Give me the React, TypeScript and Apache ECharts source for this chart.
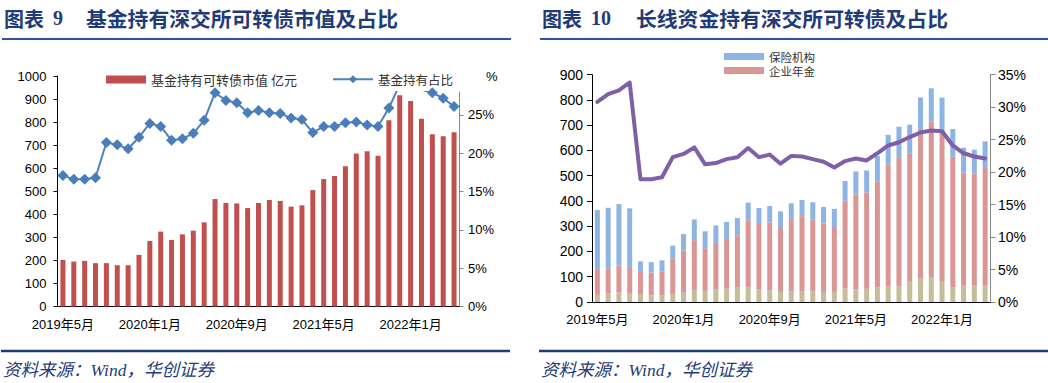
import React, { useEffect, useRef } from "react";
import * as echarts from "echarts";

const months = [
  "2019年5月", "2019年6月", "2019年7月", "2019年8月", "2019年9月", "2019年10月", "2019年11月", "2019年12月",
  "2020年1月", "2020年2月", "2020年3月", "2020年4月", "2020年5月", "2020年6月", "2020年7月", "2020年8月",
  "2020年9月", "2020年10月", "2020年11月", "2020年12月", "2021年1月", "2021年2月", "2021年3月", "2021年4月",
  "2021年5月", "2021年6月", "2021年7月", "2021年8月", "2021年9月", "2021年10月", "2021年11月", "2021年12月",
  "2022年1月", "2022年2月", "2022年3月", "2022年4月", "2022年5月",
];

// Chart 9: fund holdings of SZSE convertible bonds (亿元) and share (%)
const fundValue = [202, 195, 198, 188, 188, 179, 179, 224, 284, 325, 289, 313, 329, 365, 466, 449, 447, 427, 449, 462, 458, 433, 439, 505, 553, 566, 609, 664, 674, 654, 808, 916, 892, 814, 747, 739, 756];
const fundShare = [17.1, 16.6, 16.6, 16.8, 21.4, 21.1, 20.6, 22.1, 23.9, 23.5, 21.7, 21.9, 22.6, 24.3, 27.9, 26.9, 26.6, 25.3, 25.6, 25.3, 25.2, 24.6, 24.4, 22.7, 23.5, 23.5, 24.0, 24.1, 23.7, 23.5, 25.9, 29.0, 29.5, 28.3, 27.9, 27.2, 26.1];

// Chart 10: long-term funds
const socialFund = [28, 34, 38, 36, 31, 27, 27, 32, 37, 48, 44, 50, 53, 57, 59, 50, 46, 40, 41, 43, 41, 40, 40, 54, 50, 52, 59, 61, 61, 80, 92, 96, 83, 59, 65, 67, 67];
const annuity = [102, 99, 107, 99, 88, 90, 94, 141, 167, 197, 169, 184, 197, 205, 265, 259, 268, 257, 287, 297, 286, 271, 257, 347, 376, 382, 419, 483, 512, 509, 589, 618, 598, 516, 448, 441, 467];
const insurance = [234, 240, 243, 236, 42, 41, 44, 50, 65, 82, 67, 69, 67, 71, 70, 63, 66, 62, 63, 64, 68, 65, 72, 78, 91, 87, 100, 118, 121, 113, 129, 132, 128, 110, 98, 95, 102];
const longShare = [30.8, 32.0, 32.6, 33.8, 18.9, 18.9, 19.2, 22.3, 22.8, 23.8, 21.2, 21.4, 22.0, 22.3, 23.7, 22.3, 22.7, 21.3, 22.5, 22.4, 22.0, 21.6, 20.7, 21.7, 22.1, 21.8, 22.9, 24.1, 24.6, 25.4, 26.1, 26.4, 26.3, 24.1, 22.9, 22.4, 22.1];

const leftTicks = [0, 5, 10, 15, 20, 25];

const AX = '"Liberation Sans", Arial, "Noto Sans CJK SC", sans-serif';
const CJK = '"Noto Sans CJK SC", sans-serif';
const NAVY = "#1F3C78";

export default function App() {
  const ref = useRef<HTMLDivElement>(null);
  useEffect(() => {
    const chart = echarts.init(ref.current!, null, { renderer: "svg" });
    const plain = (v: number) => String(v);
    const catAxis = (gridIndex: number, tickInterval: number) => ({
      gridIndex,
      type: "category",
      data: months,
      axisLine: { lineStyle: { color: "#000", width: 1 } },
      axisTick: { interval: tickInterval, length: 5, lineStyle: { color: "#000" } },
      axisLabel: { interval: 7, margin: 11, fontSize: 13, color: "#000", fontFamily: AX },
      splitLine: { show: false },
    });
    const smallLegend = (name: string, top: number) => ({
      data: [name], left: 724, top, icon: "rect", padding: 0,
      itemWidth: 40, itemHeight: 7,
      textStyle: { fontSize: 11.5, color: "#333", fontFamily: CJK, lineHeight: 12 },
    });
    const option: any = {
      animation: false,
      backgroundColor: "#fff",
      grid: [
        { left: 57.5, top: 76, width: 402, height: 230.5 },
        { left: 57.5, top: 92, width: 402, height: 214.5 },
        { left: 592, top: 74.7, width: 398.5, height: 227.3 },
      ],
      xAxis: [
        catAxis(0, 0),
        { gridIndex: 1, type: "category", data: months, show: false },
        catAxis(2, 1),
      ],
      yAxis: [
        {
          gridIndex: 0, type: "value", min: 0, max: 1000, interval: 100,
          axisLine: { show: true, lineStyle: { color: "#000" } },
          axisTick: { show: true, length: 4, lineStyle: { color: "#000" } },
          splitLine: { show: false },
          axisLabel: { margin: 11, fontSize: 13, color: "#000", fontFamily: AX, formatter: plain },
        },
        {
          gridIndex: 1, type: "value", position: "right", min: 0, max: 28,
          axisLine: { show: true, lineStyle: { color: "#888" } },
          axisTick: { show: true, length: 4, lineStyle: { color: "#888" }, customValues: leftTicks },
          splitLine: { show: false },
          axisLabel: { margin: 8.5, fontSize: 13, color: "#000", fontFamily: AX, formatter: "{value}%", customValues: leftTicks },
        },
        {
          gridIndex: 2, type: "value", min: 0, max: 900, interval: 100,
          axisLine: { show: true, lineStyle: { color: "#000" } },
          axisTick: { show: true, length: 5, lineStyle: { color: "#000" } },
          splitLine: { show: false },
          axisLabel: { margin: 9, fontSize: 14, color: "#000", fontFamily: AX, formatter: plain },
        },
        {
          gridIndex: 2, type: "value", position: "right", min: 0, max: 35, interval: 5,
          axisLine: { show: true, lineStyle: { color: "#888" } },
          axisTick: { show: true, length: 5, lineStyle: { color: "#888" } },
          splitLine: { show: false },
          axisLabel: { margin: 7.5, fontSize: 14, color: "#000", fontFamily: AX, formatter: "{value}%" },
        },
      ],
      legend: [
        {
          data: ["基金持有可转债市值 亿元"], left: 101, top: 68, icon: "rect",
          itemWidth: 40, itemHeight: 8,
          textStyle: { fontSize: 13, color: "#333", fontFamily: CJK },
        },
        {
          data: ["基金持有占比"], left: 327, top: 68,
          itemWidth: 40, itemHeight: 10,
          textStyle: { fontSize: 12.5, color: "#333", fontFamily: CJK },
        },
        smallLegend("保险机构", 50.5),
        smallLegend("企业年金", 64.5),
      ],
      series: [
        {
          name: "基金持有可转债市值 亿元", type: "bar", xAxisIndex: 0, yAxisIndex: 0,
          data: fundValue, barWidth: 5, itemStyle: { color: "#C0504D" },
        },
        {
          name: "基金持有占比", type: "line", xAxisIndex: 1, yAxisIndex: 1,
          data: fundShare, symbol: "diamond", symbolSize: 11, showAllSymbol: true,
          lineStyle: { color: "#4F81BD", width: 2 }, itemStyle: { color: "#4A7EBB" },
        },
        {
          name: "社保基金", type: "bar", stack: "long", xAxisIndex: 2, yAxisIndex: 2,
          data: socialFund, barWidth: 5, itemStyle: { color: "#C4BD97" },
        },
        {
          name: "企业年金", type: "bar", stack: "long", xAxisIndex: 2, yAxisIndex: 2,
          data: annuity, barWidth: 5, itemStyle: { color: "#DA9694" },
        },
        {
          name: "保险机构", type: "bar", stack: "long", xAxisIndex: 2, yAxisIndex: 2,
          data: insurance, barWidth: 5, itemStyle: { color: "#8DB4E2" },
        },
        {
          name: "长线资金持有占比", type: "line", xAxisIndex: 2, yAxisIndex: 3,
          data: longShare, symbol: "none",
          lineStyle: { color: "#7F60A8", width: 4, join: "round", cap: "round" },
          itemStyle: { color: "#7F60A8" },
        },
      ],
      graphic: [
        { type: "text", x: 4, y: 18, style: { text: "图表", font: `bold 20px ${CJK}`, fill: NAVY, textVerticalAlign: "middle" } },
        { type: "text", x: 53, y: 18, style: { text: "9", font: 'bold 20px "Liberation Serif", serif', fill: NAVY, textVerticalAlign: "middle" } },
        { type: "text", x: 86, y: 18, style: { text: "基金持有深交所可转债市值及占比", font: `bold 20.8px ${CJK}`, fill: NAVY, textVerticalAlign: "middle" } },
        { type: "text", x: 542, y: 18, style: { text: "图表", font: `bold 20px ${CJK}`, fill: NAVY, textVerticalAlign: "middle" } },
        { type: "text", x: 591, y: 18, style: { text: "10", font: 'bold 20px "Liberation Serif", serif', fill: NAVY, textVerticalAlign: "middle" } },
        { type: "text", x: 636, y: 18, style: { text: "长线资金持有深交所可转债及占比", font: `bold 20.8px ${CJK}`, fill: NAVY, textVerticalAlign: "middle" } },
        { type: "line", shape: { x1: 2, y1: 39, x2: 511, y2: 39 }, style: { stroke: "#2F5597", lineWidth: 2 } },
        { type: "line", shape: { x1: 540, y1: 39, x2: 1048, y2: 39 }, style: { stroke: "#2F5597", lineWidth: 2 } },
        { type: "line", shape: { x1: 1, y1: 351, x2: 510, y2: 351 }, style: { stroke: NAVY, lineWidth: 2.5 } },
        { type: "line", shape: { x1: 539, y1: 351, x2: 1048, y2: 351 }, style: { stroke: NAVY, lineWidth: 2.5 } },
        { type: "text", x: 3, y: 370, style: { text: "资料来源：Wind，华创证券", font: `italic 17.5px "Liberation Serif", ${CJK}`, fill: NAVY, textVerticalAlign: "middle" } },
        { type: "text", x: 541, y: 370, style: { text: "资料来源：Wind，华创证券", font: `italic 17.5px "Liberation Serif", ${CJK}`, fill: NAVY, textVerticalAlign: "middle" } },
        { type: "text", x: 486, y: 76, style: { text: "%", font: `13px ${AX}`, fill: "#000", textVerticalAlign: "middle" } },
      ],
    };
    chart.setOption(option);
    return () => chart.dispose();
  }, []);
  return (
    <div
      ref={ref}
      style={{ position: "absolute", left: 0, top: 0, width: 1048, height: 383, background: "#fff" }}
    />
  );
}
